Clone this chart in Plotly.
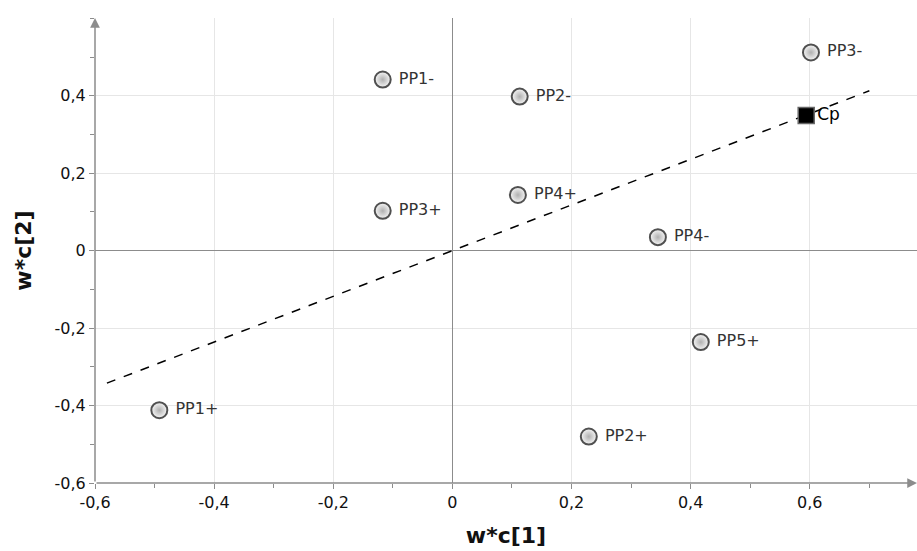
import plotly.graph_objects as go

labels = ["PP1-", "PP2-", "PP3-", "PP3+", "PP4+", "PP4-", "PP5+", "PP1+", "PP2+"]
wc1 = [-0.117, 0.113, 0.602, -0.117, 0.110, 0.345, 0.417, -0.492, 0.229]
wc2 = [0.442, 0.398, 0.512, 0.103, 0.144, 0.035, -0.236, -0.412, -0.480]

cp_label = ["Cp"]
cp_x = [0.594]
cp_y = [0.349]

line_x = [-0.58, 0.70]
line_y = [-0.342, 0.413]

x_tick_vals = [-0.6, -0.4, -0.2, 0, 0.2, 0.4, 0.6]
x_tick_text = ["-0,6", "-0,4", "-0,2", "0", "0,2", "0,4", "0,6"]
y_tick_vals = [-0.6, -0.4, -0.2, 0, 0.2, 0.4]
y_tick_text = ["-0,6", "-0,4", "-0,2", "0", "0,2", "0,4"]

FONT = "DejaVu Sans"

fig = go.Figure()
fig.add_trace(go.Scatter(
    x=line_x, y=line_y, mode="lines",
    line=dict(color="black", width=1.5, dash="dash"),
    hoverinfo="skip", showlegend=False))
fig.add_trace(go.Scatter(
    x=wc1, y=wc2, mode="markers+text", text=[" " + t for t in labels],
    textposition="middle right",
    textfont=dict(family=FONT, size=16, color="#333333"),
    marker=dict(symbol="circle", size=16, color="#f6f6f6",
                gradient=dict(type="radial", color="#b0b0b0"),
                line=dict(color="#505050", width=2)),
    showlegend=False))
fig.add_trace(go.Scatter(
    x=cp_x, y=cp_y, mode="markers+text", text=cp_label,
    textposition="middle right",
    textfont=dict(family=FONT, size=17, color="#000000"),
    marker=dict(symbol="square", size=16, color="black",
                line=dict(color="#666666", width=1.5)),
    showlegend=False))

xr = [-0.6, 0.78]
yr = [-0.6, 0.601]

# axis lines with arrows
fig.add_annotation(x=-0.6, y=yr[1], ax=-0.6, ay=-0.6, xref="x", yref="y",
                   axref="x", ayref="y", showarrow=True, arrowhead=2,
                   arrowsize=1.3, arrowwidth=1.5, arrowcolor="#8c8c8c", text="")
fig.add_annotation(x=xr[1], y=-0.6, ax=-0.6, ay=-0.6, xref="x", yref="y",
                   axref="x", ayref="y", showarrow=True, arrowhead=2,
                   arrowsize=1.3, arrowwidth=1.5, arrowcolor="#8c8c8c", text="")

axis_common = dict(
    showgrid=True, gridcolor="#e6e6e6", gridwidth=1,
    zeroline=True, zerolinecolor="#8c8c8c", zerolinewidth=1,
    ticks="outside", ticklen=5, tickcolor="#8c8c8c",
    minor=dict(dtick=0.1, tick0=0, ticks="outside", ticklen=4,
               tickcolor="#8c8c8c", showgrid=False),
    tickfont=dict(family=FONT, size=16, color="#111111"),
    showline=False, automargin=False,
)

fig.update_layout(
    width=917, height=551,
    margin=dict(l=95, r=0, t=18, b=68),
    plot_bgcolor="white", paper_bgcolor="white",
    xaxis=dict(range=xr, tickvals=x_tick_vals, ticktext=x_tick_text,
               title=dict(text="<b>w*c[1]</b>", standoff=16,
               font=dict(family=FONT, size=22, color="#111111")),
               **axis_common),
    yaxis=dict(range=yr, tickvals=y_tick_vals, ticktext=y_tick_text,
               title=dict(text="<b>w*c[2]</b>", standoff=16,
               font=dict(family=FONT, size=22, color="#111111")),
               **axis_common),
)

fig.write_html("out.html", config={"displayModeBar": False},
               post_script="document.body.style.margin='0px';")
